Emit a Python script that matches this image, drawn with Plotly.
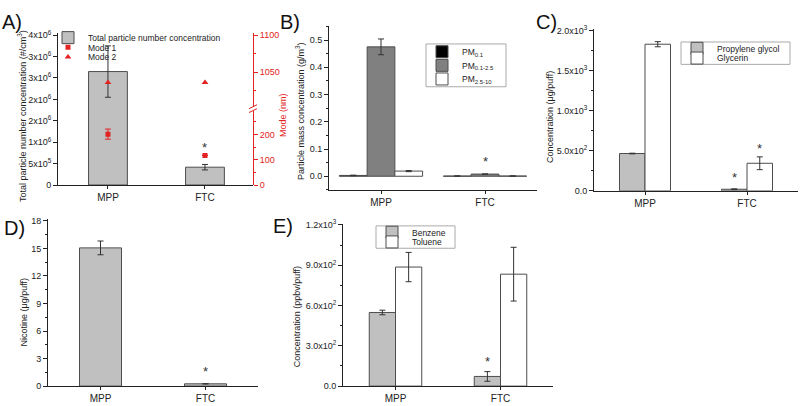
import plotly.graph_objects as go

FONT = "Liberation Sans, Arial, sans-serif"
RED = "#e32222"
EDGE = "#4d4d4d"
LIGHT = "#c0c0c0"
DARK = "#808080"

cats = ["MPP", "FTC"]
xpos = [0, 1]

# A) particle number + modes
tpnc = [2.65e6, 0.416e6]
tpnc_err = [0.6e6, 0.064e6]
mode1 = [201, 117]
mode1_err = [20, 0]
mode2 = [1036, 1036]
a_alias = {"0": "0", "500000": "5x10<sup>5</sup>", "1000000": "1x10<sup>6</sup>",
           "1500000": "2x10<sup>6</sup>", "2000000": "2x10<sup>6</sup>", "2500000": "3x10<sup>6</sup>",
           "3000000": "3x10<sup>6</sup>", "3500000": "4x10<sup>6</sup>"}

# B) particle mass
pm01 = [0.003, 0.001]
pm01_err = [0.001, 0.0]
pm0125 = [0.475, 0.008]
pm0125_err = [0.029, 0.0]
pm2510 = [0.019, 0.001]
pm2510_err = [0.002, 0.0]

# C) PG / glycerin
pg = [467, 20]
pg_err = [4, 5]
gly = [1834, 345]
gly_err = [32, 80]
c_alias = {"0": "0.0", "500": "5.0x10<sup>2</sup>", "1000": "1.0x10<sup>3</sup>",
           "1500": "1.5x10<sup>3</sup>", "2000": "2.0x10<sup>3</sup>"}

# D) nicotine
nic = [15.06, 0.25]
nic_err = [0.75, 0.0]

# E) benzene / toluene
benz = [548, 72]
benz_err = [17, 36]
tol = [886, 833]
tol_err = [109, 200]
e_alias = {"0": "0.0", "300": "3.0x10<sup>2</sup>", "600": "6.0x10<sup>2</sup>",
           "900": "9.0x10<sup>2</sup>", "1200": "1.2x10<sup>3</sup>"}

W, H = 800, 406


def px(x):
    return x / W


def py(y):
    return 1 - y / H


def err(arr, color="#333333"):
    return dict(type="data", array=arr, color=color, thickness=1, width=3)


def bar(y, e, color, name, xa, ya, width, offset, legend=None, show=True):
    return go.Bar(x=xpos, y=y, error_y=err(e), name=name, xaxis=xa, yaxis=ya,
                  width=width, offset=offset, marker=dict(color=color, line=dict(color=EDGE, width=1)),
                  legend=legend, showlegend=show)


fig = go.Figure()

# A
fig.add_trace(bar(tpnc, tpnc_err, LIGHT, "Total particle number concentration", "x", "y", 0.4, -0.2, "legend"))
fig.add_trace(go.Scatter(x=xpos, y=mode1, error_y=err(mode1_err, RED), mode="markers", name="Mode 1",
                         marker=dict(symbol="square", color=RED, size=5), xaxis="x", yaxis="y2", legend="legend2"))
fig.add_trace(go.Scatter(x=xpos, y=mode2, mode="markers", name="Mode 2",
                         marker=dict(symbol="triangle-up", color=RED, size=6), xaxis="x", yaxis="y3", legend="legend3"))
# B
fig.add_trace(bar(pm01, pm01_err, "#000000", "PM<sub>0.1</sub>", "x2", "y4", 0.2667, -0.4, "legend4"))
fig.add_trace(bar(pm0125, pm0125_err, DARK, "PM<sub>0.1-2.5</sub>", "x2", "y4", 0.2667, -0.1333, "legend5"))
fig.add_trace(bar(pm2510, pm2510_err, "#ffffff", "PM<sub>2.5-10</sub>", "x2", "y4", 0.2667, 0.1333, "legend6"))
# C
fig.add_trace(bar(pg, pg_err, LIGHT, "Propylene glycol", "x3", "y5", 0.25, -0.25, "legend7"))
fig.add_trace(bar(gly, gly_err, "#ffffff", "Glycerin", "x3", "y5", 0.25, 0.0, "legend8"))
# D
fig.add_trace(bar(nic, nic_err, LIGHT, "Nicotine", "x4", "y6", 0.4, -0.2, show=False))
# E
fig.add_trace(bar(benz, benz_err, LIGHT, "Benzene", "x5", "y7", 0.25, -0.25, "legend9"))
fig.add_trace(bar(tol, tol_err, "#ffffff", "Toluene", "x5", "y7", 0.25, 0.0, "legend10"))

INK = "#222"
base_y = dict(showline=True, linecolor=INK, linewidth=1, ticks="outside", ticklen=4, tickcolor=INK,
              showgrid=False, zeroline=False, tickfont=dict(family=FONT, size=9, color=INK))
base_x = dict(showline=True, linecolor=INK, linewidth=1, ticks="outside", ticklen=3, tickcolor=INK,
              showgrid=False, zeroline=False, tickfont=dict(family=FONT, size=10, color=INK),
              tickmode="array", tickvals=xpos, ticktext=cats)
red_y = dict(base_y, linecolor=RED, tickcolor=RED, tickfont=dict(family=FONT, size=9, color=RED),
             side="right", anchor="x")


def minor(dt, c=INK):
    return dict(ticks="outside", ticklen=2, tickcolor=c, dtick=dt, showgrid=False)


fig.update_layout(
    width=W, height=H, margin=dict(l=0, r=0, t=0, b=0),
    paper_bgcolor="white", plot_bgcolor="rgba(0,0,0,0)", barmode="overlay",
    font=dict(family=FONT, color=INK),
    xaxis=dict(base_x, domain=[px(58), px(253)], range=[-0.515, 1.495], anchor="y"),
    yaxis=dict(base_y, domain=[py(184), py(28)], range=[0, 3.545e6], anchor="x",
               tick0=0, dtick=500000, tickformat="d", labelalias=a_alias),
    yaxis2=dict(red_y, domain=[py(184), py(107.5)], range=[0, 294], tick0=0, dtick=100, minor=minor(50, RED)),
    yaxis3=dict(red_y, domain=[py(104), py(28)], range=[1002.6, 1102.6], tick0=1000, dtick=50,
                minor=minor(25, RED)),
    xaxis2=dict(base_x, domain=[px(329), px(537)], range=[-0.5, 1.5], anchor="y4"),
    yaxis4=dict(base_y, domain=[py(189), py(21)], range=[-0.05, 0.55], anchor="x2",
                tick0=0, dtick=0.1, tickformat=".1f", minor=minor(0.05)),
    xaxis3=dict(base_x, domain=[px(594), px(798)], range=[-0.5, 1.5], anchor="y5"),
    yaxis5=dict(base_y, domain=[py(190), py(24)], range=[0, 2020], anchor="x3",
                tick0=0, dtick=500, tickformat="d", labelalias=c_alias, minor=minor(250)),
    xaxis4=dict(base_x, domain=[px(48), px(258)], range=[-0.5, 1.5], anchor="y6"),
    yaxis6=dict(base_y, domain=[py(390.7), py(219)], range=[0, 18.2], anchor="x4", tick0=0, dtick=3,
                minor=minor(1.5)),
    xaxis5=dict(base_x, domain=[px(343), px(553)], range=[-0.5, 1.5], anchor="y7"),
    yaxis7=dict(base_y, domain=[py(390.7), py(224)], range=[0, 1207], anchor="x5",
                tick0=0, dtick=300, tickformat="d", labelalias=e_alias, minor=minor(150)),
)

# one legend per entry so rows sit as tight as in the original
leg_font = dict(family=FONT, size=8.5, color=INK)
legend_rows = [("legend", 48, 32.5), ("legend2", 48, 42.5), ("legend3", 48, 52.5),
               ("legend4", 422, 47), ("legend5", 422, 61), ("legend6", 422, 75),
               ("legend7", 677, 43.5), ("legend8", 677, 53.5),
               ("legend9", 372, 232.5), ("legend10", 372, 242.5)]
fig.update_layout({name: dict(x=px(x), y=py(y), xanchor="left", yanchor="middle", font=leg_font,
                              bgcolor="rgba(0,0,0,0)", borderwidth=0, itemwidth=30)
                   for name, x, y in legend_rows})

# legend frames for B, C, E
for x0, y0, x1, y1 in [(426, 39, 506, 83), (681, 37, 790, 60), (376, 226, 455, 249)]:
    fig.add_shape(type="rect", xref="paper", yref="paper", x0=px(x0), x1=px(x1), y0=py(y0), y1=py(y1),
                  line=dict(color="#aaa", width=1), fillcolor="white", layer="below")

# axis titles
titles = [
    ("Total particle number concentration (#/cm<sup>3</sup>)", 22, 113, INK),
    ("Mode (nm)", 283, 112, RED),
    ("Particle mass concentration (g/m<sup>3</sup>)", 300, 108, INK),
    ("Concentration (μg/puff)", 550, 114, INK),
    ("Nicotine (μg/puff)", 24, 315, INK),
    ("Concentration (ppbv/puff)", 297, 320, INK),
]
for text, x, y, c in titles:
    fig.add_annotation(text=text, x=px(x), y=py(y), xref="paper", yref="paper", showarrow=False,
                       xanchor="center", yanchor="middle",
                       textangle=-90, font=dict(family=FONT, size=9, color=c))

# panel labels
for text, x, y in [("A)", 12, 16), ("B)", 290, 16), ("C)", 546, 16), ("D)", 14, 228), ("E)", 283, 226)]:
    fig.add_annotation(text=text, x=px(x), y=py(y), xref="paper", yref="paper", showarrow=False,
                       xanchor="center", yanchor="middle",
                       font=dict(family=FONT, size=20, color="#111"))

# significance asterisks
stars = [("x", "y", 1, 0.885e6), ("x2", "y4", 1, 0.056), ("x3", "y5", 0.875, 170),
         ("x3", "y5", 1.125, 535), ("x4", "y6", 1, 1.6), ("x5", "y7", 0.875, 186)]
for xa, ya, x, y in stars:
    fig.add_annotation(text="*", x=x, y=y, xref=xa, yref=ya, showarrow=False,
                       xanchor="center", yanchor="middle",
                       font=dict(family=FONT, size=13, color="#333"))

# axis break marks on the right axis of A
for yy in (103.5, 107.5):
    fig.add_shape(type="line", xref="paper", yref="paper", x0=px(249), x1=px(257),
                  y0=py(yy + 2), y1=py(yy - 2), line=dict(color=RED, width=1))

fig.write_html("out.html", config={"displayModeBar": False},
               post_script="document.body.style.margin='0';")
